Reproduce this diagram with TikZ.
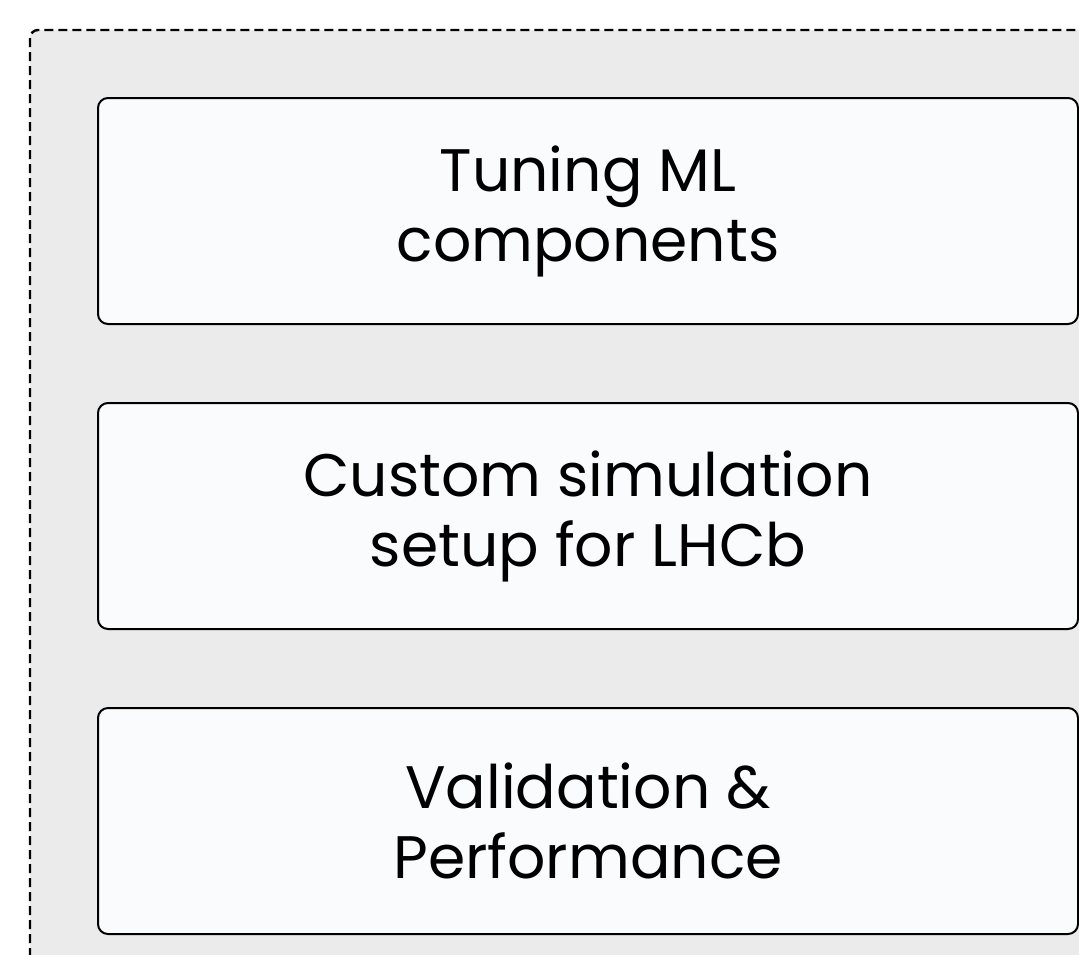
\documentclass[tikz,border=0pt]{standalone}
\usepackage{fontspec}
\setmainfont{Poppins}
\usetikzlibrary{positioning}
\definecolor{panelgray}{HTML}{EBEBEC}
\definecolor{boxwhite}{HTML}{FAFBFD}

\begin{document}
\begin{tikzpicture}[
    x=0.5pt, y=-0.5pt,
    stagebox/.style={
    rectangle,
    rounded corners=5pt,
    draw=black,
    line width=1pt,
    fill=boxwhite,
    minimum width=490pt,
    minimum height=113pt,
    align=center,
    font=\fontsize{30}{35}\selectfont},
    node distance=38.5pt
    ]
    \useasboundingbox (0,0) rectangle (1079,954);

    % dashed panel behind the stages
    \draw[dash pattern=on 4.5pt off 2.5pt, line width=1.2pt,
          fill=panelgray, rounded corners=4pt] (30,30) rectangle (1200,1100);

    \node[stagebox, anchor=north west] (tuning) at (97,97) {Tuning ML\\components};
    \node[stagebox, below = of tuning] (custom) {Custom simulation\\setup for LHCb};
    \node[stagebox, below = of custom] (valid) {Validation \&\\Performance};
\end{tikzpicture}
\end{document}
